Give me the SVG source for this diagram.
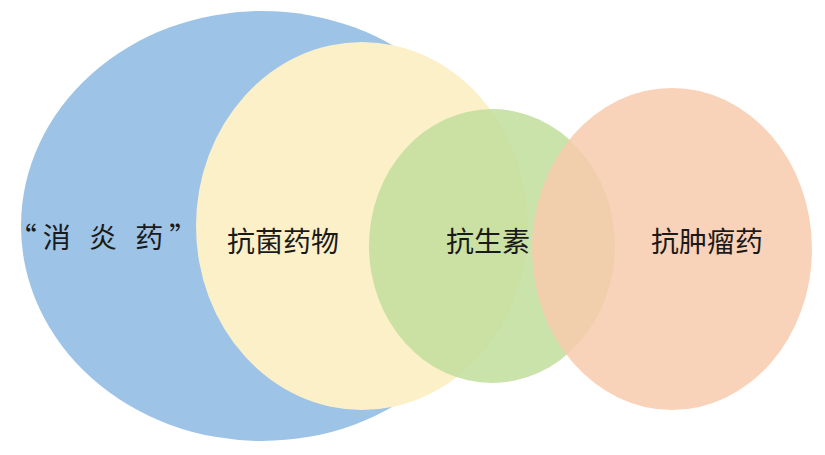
<svg xmlns="http://www.w3.org/2000/svg" width="825" height="455" viewBox="0 0 825 455">
<style>
text{font-family:"Noto Sans CJK SC","Liberation Sans",sans-serif;font-size:28px;fill:#1a1a1a;text-anchor:middle;dominant-baseline:central}
</style>
<rect width="825" height="455" fill="#fff"/>
<g id="blue"><ellipse cx="262" cy="226" rx="241" ry="215" fill="#9dc3e6"/></g>
<g id="yellow"><ellipse cx="362" cy="226" rx="166" ry="184" fill="#fcf0c9"/></g>
<g id="green"><ellipse cx="492" cy="246" rx="123" ry="137" fill="#c1de9c" opacity="0.85"/></g>
<g id="orange"><ellipse cx="672" cy="249" rx="140" ry="161" fill="#f8cbad" opacity="0.85"/></g>
<g id="connectors"></g>
<g id="labels">
<text x="106" y="236" letter-spacing="6">“消 炎 药”</text>
<text x="283" y="240">抗菌药物</text>
<text x="488" y="240">抗生素</text>
<text x="707" y="240">抗肿瘤药</text>
</g>
</svg>
